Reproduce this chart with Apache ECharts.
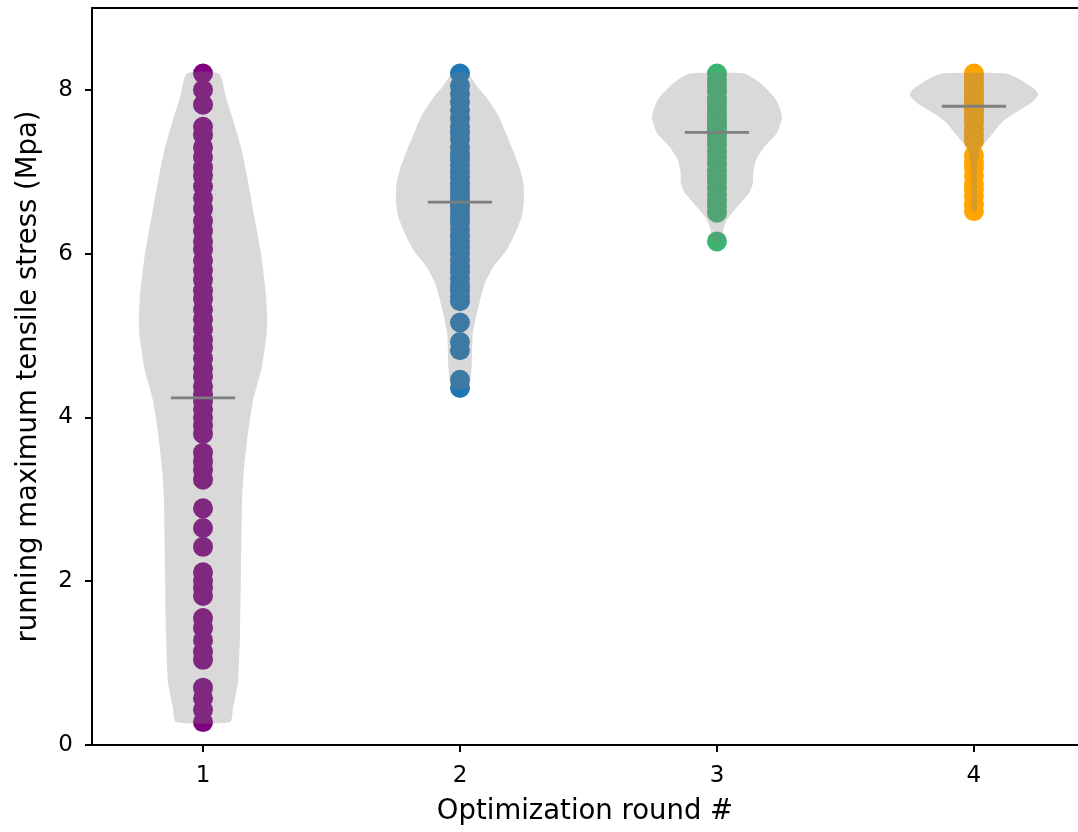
<!DOCTYPE html>
<html><head><meta charset="utf-8">
<script src="https://cdn.jsdelivr.net/npm/echarts@6/dist/echarts.min.js"></script>
<style>html,body{margin:0;padding:0;background:#fff}#c{width:1078px;height:832px}</style>
</head><body><div id="c"></div>
<script>
// ---- data ----
const positions = [1, 2, 3, 4];
const xTickLabels = ['1', '2', '3', '4'];
const yTickValues = [0, 2, 4, 6, 8];
const pointColors = ['#800080', '#1f77b4', '#3cb371', '#ffa500'];

const round1 = [8.2, 8.0, 7.82, 7.55, 7.45, 7.3, 7.18, 7.05, 6.95, 6.82, 6.68, 6.55, 6.4, 6.28, 6.15, 6.05,
  5.92, 5.8, 5.68, 5.55, 5.45, 5.32, 5.2, 5.08, 4.95, 4.85, 4.72, 4.6, 4.5, 4.38, 4.28, 4.2,
  4.1, 4.0, 3.9, 3.8, 3.57, 3.46, 3.36, 3.24, 2.89, 2.65, 2.42, 2.11, 2.01, 1.92, 1.82,
  1.55, 1.43, 1.28, 1.14, 1.04, 0.70, 0.57, 0.43, 0.28];
const round2 = [8.2, 8.05, 7.95, 7.85, 7.75, 7.65, 7.55, 7.48, 7.4, 7.3, 7.22, 7.15, 7.08, 7.0, 6.93, 6.86,
  6.8, 6.74, 6.68, 6.63, 6.58, 6.52, 6.45, 6.38, 6.3, 6.22, 6.15, 6.08, 6.0, 5.92, 5.85, 5.78,
  5.7, 5.62, 5.55, 5.48, 5.42, 5.16, 4.92, 4.82, 4.46, 4.36];
const round3 = [8.2, 8.12, 8.05, 7.98, 7.9, 7.85, 7.78, 7.72, 7.66, 7.6, 7.55, 7.5, 7.46, 7.4, 7.33, 7.25,
  7.18, 7.1, 7.02, 6.95, 6.88, 6.8, 6.72, 6.65, 6.58, 6.5, 6.15];
const round4 = [8.2, 8.15, 8.1, 8.05, 8.0, 7.96, 7.92, 7.88, 7.84, 7.8, 7.76, 7.72, 7.66, 7.6, 7.52, 7.45,
  7.38, 7.2, 7.12, 7.05, 6.95, 6.85, 6.78, 6.7, 6.6, 6.52];

const medians = [4.24, 6.63, 7.48, 7.80];

// violin outlines: y value and half width (x units)
const violin1Y = [0.28, 0.46, 0.76, 1.37, 2.17, 2.99, 3.39, 3.81, 4.21, 4.6, 5.0, 5.19, 5.5, 6.0, 6.45, 7.0, 7.27, 7.6, 7.9, 8.2];
const violin1W = [0.105, 0.117, 0.136, 0.144, 0.148, 0.152, 0.16, 0.175, 0.195, 0.228, 0.247, 0.25, 0.245, 0.226, 0.2, 0.168, 0.15, 0.12, 0.09, 0.062];
const violin2Y = [4.36, 4.6, 5.03, 5.43, 5.64, 5.84, 6.04, 6.25, 6.45, 6.65, 6.85, 7.05, 7.27, 7.5, 7.67, 7.88, 8.05, 8.2];
const violin2W = [0.032, 0.045, 0.05, 0.078, 0.097, 0.13, 0.18, 0.215, 0.24, 0.249, 0.247, 0.232, 0.205, 0.175, 0.152, 0.11, 0.065, 0.03];
const violin3Y = [6.15, 6.33, 6.45, 6.57, 6.74, 6.86, 7.0, 7.14, 7.3, 7.47, 7.67, 7.88, 8.08, 8.2];
const violin3W = [0.015, 0.027, 0.047, 0.078, 0.125, 0.14, 0.142, 0.152, 0.183, 0.233, 0.253, 0.23, 0.17, 0.105];
const violin4Y = [6.52, 6.8, 7.1, 7.27, 7.35, 7.47, 7.6, 7.72, 7.84, 7.94, 8.0, 8.12, 8.2];
const violin4W = [0.01, 0.011, 0.013, 0.023, 0.042, 0.074, 0.107, 0.16, 0.222, 0.25, 0.24, 0.183, 0.125];

// ---- build ----
const rounds = [round1, round2, round3, round4];
const violinYs = [violin1Y, violin2Y, violin3Y, violin4Y];
const violinWs = [violin1W, violin2W, violin3W, violin4W];
const FONT = 'DejaVu Sans';
const X_MIN = 0.568, X_MAX = 4.405;

const scatterSeries = rounds.map((vals, i) => ({
  type: 'scatter',
  data: vals.map(v => [positions[i], v]),
  symbol: 'circle',
  symbolSize: 20,
  itemStyle: { color: pointColors[i], opacity: 1 },
  z: 2,
  silent: true,
  animation: false
}));

const violinSeries = {
  type: 'custom',
  data: positions.map((p, i) => [p, i]),
  encode: { x: 0 },
  z: 3,
  silent: true,
  animation: false,
  renderItem: function (params, api) {
    const i = params.dataIndex;
    const p = positions[i];
    const ys = violinYs[i], ws = violinWs[i];
    const pts = [];
    for (let k = 0; k < ys.length; k++) pts.push(api.coord([p + ws[k], ys[k]]));
    for (let k = ys.length - 1; k >= 0; k--) pts.push(api.coord([p - ws[k], ys[k]]));
    return { type: 'polygon', shape: { points: pts, smooth: 0.2 }, style: { fill: 'rgba(128,128,128,0.3)', stroke: 'none' } };
  }
};

const medianSeries = {
  type: 'custom',
  data: positions.map((p, i) => [p, medians[i]]),
  encode: { x: 0, y: 1 },
  z: 4,
  silent: true,
  animation: false,
  renderItem: function (params, api) {
    const p = api.value(0), m = api.value(1);
    const a = api.coord([p - 0.125, m]), b = api.coord([p + 0.125, m]);
    return { type: 'line', shape: { x1: a[0], y1: a[1], x2: b[0], y2: b[1] }, style: { stroke: '#7f7f7f', lineWidth: 2.8 } };
  }
};

const chart = echarts.init(document.getElementById('c'), null, { renderer: 'canvas' });
chart.setOption({
  animation: false,
  backgroundColor: '#fff',
  grid: { left: 92, top: 8, right: 0, bottom: 87 },
  xAxis: [{
    type: 'value', min: X_MIN, max: X_MAX,
    name: 'Optimization round #', nameLocation: 'middle', nameGap: 53,
    nameTextStyle: { fontFamily: FONT, fontSize: 27.5, color: '#000' },
    axisLine: { show: true, onZero: false, lineStyle: { color: '#000', width: 2 } },
    axisTick: { show: true, length: 7, lineStyle: { color: '#000', width: 2 }, customValues: positions },
    axisLabel: { fontFamily: FONT, fontSize: 23, color: '#000', margin: 20, customValues: positions,
      formatter: v => xTickLabels[positions.indexOf(v)] },
    splitLine: { show: false }
  }, {
    type: 'value', position: 'top', min: X_MIN, max: X_MAX,
    axisLine: { show: true, onZero: false, lineStyle: { color: '#000', width: 2 } },
    axisTick: { show: false }, axisLabel: { show: false }, splitLine: { show: false }
  }],
  yAxis: {
    type: 'value', min: 0, max: 9,
    name: 'running maximum tensile stress (Mpa)', nameLocation: 'middle', nameGap: 49,
    nameTextStyle: { fontFamily: FONT, fontSize: 27.5, color: '#000' },
    axisLine: { show: true, onZero: false, lineStyle: { color: '#000', width: 2 } },
    axisTick: { show: true, length: 7, lineStyle: { color: '#000', width: 2 }, customValues: yTickValues },
    axisLabel: { fontFamily: FONT, fontSize: 23, color: '#000', margin: 19, customValues: yTickValues },
    splitLine: { show: false }
  },
  series: [...scatterSeries, violinSeries, medianSeries]
});
</script></body></html>
